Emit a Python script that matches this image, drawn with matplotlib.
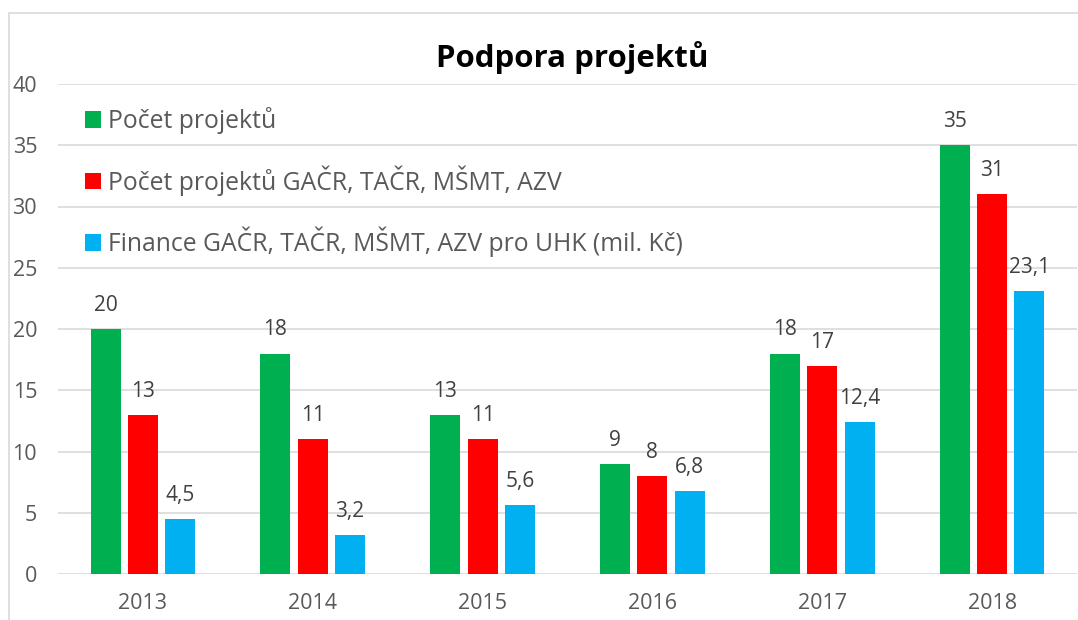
import matplotlib
matplotlib.use("Agg")
import matplotlib.pyplot as plt
from matplotlib.patches import Rectangle, Patch
import numpy as np

years = ["2013", "2014", "2015", "2016", "2017", "2018"]
pocet = [20, 18, 13, 9, 18, 35]
pocet_agency = [13, 11, 11, 8, 17, 31]
finance = [4.5, 3.2, 5.6, 6.8, 12.4, 23.1]
series_names = ["Počet projektů", "Počet projektů GAČR, TAČR, MŠMT, AZV",
                "Finance GAČR, TAČR, MŠMT, AZV pro UHK (mil. Kč)"]
colors = ["#00B050", "#FF0000", "#00B0F0"]

plt.rcParams['font.family'] = ['Open Sans', 'DejaVu Sans']

W, H = 1078, 620
fig = plt.figure(figsize=(W / 100, H / 100), dpi=100)
ax = fig.add_axes([58 / W, 1 - 574 / H, 1019 / W, 490 / H])

# chart border
fig.patches.append(Rectangle((9 / W, -0.05), 1.2, 1 - 13 / H + 0.05, transform=fig.transFigure,
                             fill=False, edgecolor="#D9D9D9", linewidth=1.2))

x = np.arange(len(years))
bw = 0.177
step = 0.22
all_series = [pocet, pocet_agency, finance]
for i, (vals, c) in enumerate(zip(all_series, colors)):
    pos = x + (i - 1) * step
    ax.bar(pos, vals, width=bw, color=c, label=series_names[i], zorder=3)
    for p, v in zip(pos, vals):
        lab = f"{v:g}".replace(".", ",")
        ax.annotate(lab, (p, v), xytext=(0, 17), textcoords="offset points",
                    ha="center", va="center", fontsize=15, color="#404040")

ax.set_xlim(-0.5, len(years) - 0.5)
ax.set_ylim(0, 40)
ax.set_yticks(np.arange(0, 41, 5))
ax.set_xticks(x)
ax.set_xticklabels(years)
ax.yaxis.grid(True, color="#D9D9D9", linewidth=1.2, zorder=0)
ax.set_axisbelow(True)
for s in ax.spines.values():
    s.set_visible(False)
ax.tick_params(axis="both", length=0, labelsize=15.5, labelcolor="#595959")
ax.tick_params(axis="y", pad=15)
ax.tick_params(axis="x", pad=14)

fig.text(572 / W, 1 - 58 / H, "Podpora projektů", ha="center", va="center",
         fontsize=22.5, fontweight="bold", color="black")

handles = [Patch(facecolor=c) for c in colors]
ax.legend(handles, series_names, loc="upper left", bbox_to_anchor=(17 / 1019, 0.973),
          frameon=False, fontsize=17.8, labelcolor="#595959", labelspacing=1.26,
          handlelength=0.65, handleheight=0.65, handletextpad=0.3, borderaxespad=0)

fig.savefig("out.png", dpi=100)
